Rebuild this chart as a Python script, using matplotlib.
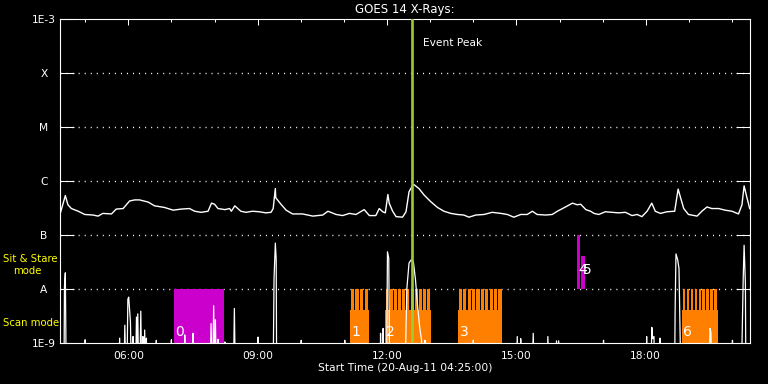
import matplotlib
matplotlib.use('Agg')
import numpy as np
import matplotlib.pyplot as plt
from matplotlib.ticker import MultipleLocator, FixedLocator, FuncFormatter, NullLocator

# time axis: hours of day, 20-Aug-11, 04:25 to 20:25
t_start = 4 + 25 / 60
t_end = t_start + 16
event_peak_hour = 12.59

# GOES 14 long channel, log10(W m^-2)
goes_hours = [
    4.43, 4.54, 4.60, 4.68, 4.84, 4.99, 5.18, 5.30, 5.41, 5.61,
    5.72, 5.88, 6.03, 6.15, 6.26, 6.46, 6.61, 6.84, 7.04, 7.23,
    7.42, 7.54, 7.69, 7.85, 7.93, 8.00, 8.08, 8.24, 8.35, 8.39,
    8.47, 8.54, 8.61, 8.73, 8.88, 9.04, 9.19, 9.31, 9.36, 9.41,
    9.42, 9.54, 9.66, 9.81, 10.04, 10.28, 10.51, 10.63, 10.82, 10.97,
    11.13, 11.28, 11.47, 11.59, 11.74, 11.82, 11.90, 11.96, 12.02, 12.05,
    12.13, 12.21, 12.36, 12.44, 12.51, 12.60, 12.63, 12.74, 12.86, 13.01,
    13.17, 13.32, 13.48, 13.63, 13.78, 13.90, 14.06, 14.25, 14.44, 14.64,
    14.79, 14.94, 15.10, 15.25, 15.37, 15.48, 15.68, 15.83, 15.95, 16.14,
    16.30, 16.41, 16.49, 16.61, 16.72, 16.80, 16.91, 17.06, 17.22, 17.37,
    17.53, 17.68, 17.80, 17.91, 18.03, 18.14, 18.22, 18.34, 18.49, 18.67,
    18.75, 18.80, 18.88, 18.99, 19.19, 19.30, 19.42, 19.53, 19.69, 19.84,
    20.00, 20.15, 20.23, 20.28, 20.34, 20.41,
]
goes_log = [
    -6.58, -6.27, -6.44, -6.51, -6.56, -6.62, -6.63, -6.65, -6.60, -6.61,
    -6.52, -6.51, -6.37, -6.35, -6.35, -6.39, -6.46, -6.49, -6.54, -6.52,
    -6.51, -6.56, -6.58, -6.56, -6.41, -6.43, -6.51, -6.53, -6.51, -6.56,
    -6.46, -6.51, -6.56, -6.58, -6.56, -6.57, -6.59, -6.58, -6.51, -6.14,
    -6.31, -6.43, -6.54, -6.61, -6.61, -6.65, -6.63, -6.56, -6.62, -6.64,
    -6.60, -6.62, -6.53, -6.64, -6.64, -6.51, -6.57, -6.59, -6.25, -6.41,
    -6.56, -6.66, -6.67, -6.57, -6.20, -6.07, -6.07, -6.14, -6.26, -6.38,
    -6.49, -6.56, -6.60, -6.62, -6.63, -6.67, -6.63, -6.62, -6.58, -6.60,
    -6.62, -6.67, -6.62, -6.62, -6.56, -6.62, -6.63, -6.62, -6.56, -6.48,
    -6.41, -6.44, -6.43, -6.53, -6.56, -6.60, -6.62, -6.57, -6.58, -6.59,
    -6.58, -6.64, -6.62, -6.66, -6.56, -6.41, -6.56, -6.60, -6.57, -6.56,
    -6.15, -6.29, -6.51, -6.62, -6.65, -6.56, -6.48, -6.51, -6.51, -6.54,
    -6.56, -6.61, -6.44, -6.09, -6.29, -6.51,
]

# second (lower) trace, log10 units, -9.5 = below plot floor
low_hours = [
    4.51, 4.52, 4.54, 4.56,
    4.99, 5.00, 5.01,
    5.78, 5.80, 5.82,
    5.90, 5.92, 5.94,
    5.97, 5.99, 6.01, 6.05, 6.07,
    6.10, 6.11, 6.12,
    6.17, 6.19, 6.21, 6.22, 6.24, 6.27, 6.29, 6.31,
    6.33, 6.34, 6.35, 6.37, 6.38, 6.40, 6.41, 6.42, 6.43,
    6.64, 6.65, 6.66,
    6.99, 7.00, 7.01,
    7.30, 7.31, 7.32,
    7.49, 7.50, 7.51,
    7.90, 7.92, 7.94, 7.96, 7.98, 8.00, 8.01, 8.02, 8.04, 8.07, 8.08, 8.09,
    8.23, 8.24, 8.25,
    8.44, 8.46, 8.48,
    9.00, 9.01, 9.02,
    9.36, 9.38, 9.41, 9.43, 9.44,
    10.00, 10.01, 10.02,
    11.01, 11.02, 11.03,
    11.84, 11.85, 11.86, 11.90, 11.91, 11.92, 11.99, 12.01, 12.04, 12.06,
    12.42, 12.46, 12.51, 12.56, 12.61, 12.66, 12.71, 12.76, 12.80, 12.81,
    12.87, 12.88, 12.89,
    13.99, 14.00, 14.01,
    15.00, 15.02, 15.03, 15.09, 15.10, 15.11,
    15.37, 15.39, 15.41,
    15.71, 15.73, 15.75,
    15.90, 15.93, 15.95, 15.98, 16.00,
    17.01, 17.02, 17.03,
    18.01, 18.02, 18.03, 18.12, 18.14, 18.16, 18.19, 18.20, 18.32, 18.33, 18.34,
    18.67, 18.68, 18.70, 18.74, 18.77, 18.81,
    19.47, 19.49, 19.51, 19.53,
    20.00, 20.01, 20.02,
    20.22, 20.24, 20.26, 20.28, 20.31, 20.32,
]
low_log = [
    -9.5, -7.96, -7.70, -9.5,
    -9.5, -8.94, -9.5,
    -9.5, -8.91, -9.5,
    -9.5, -8.67, -9.5,
    -9.5, -8.19, -8.15, -8.61, -9.5,
    -9.5, -8.88, -9.5,
    -9.5, -8.52, -9.5, -8.46, -9.5, -9.5, -8.41, -9.5,
    -9.5, -8.88, -9.5, -9.5, -8.76, -9.5, -9.5, -8.91, -9.5,
    -9.5, -8.95, -9.5,
    -9.5, -8.94, -9.5,
    -9.5, -8.85, -9.5,
    -9.5, -8.82, -9.5,
    -9.5, -8.64, -9.5, -9.5, -8.31, -9.5, -9.5, -8.57, -9.5, -9.5, -8.93, -9.5,
    -9.5, -8.98, -9.5,
    -9.5, -8.36, -9.5,
    -9.5, -8.89, -9.5,
    -9.5, -7.80, -7.15, -7.45, -9.5,
    -9.5, -8.95, -9.5,
    -9.5, -8.95, -9.5,
    -9.5, -8.82, -9.5, -9.5, -8.73, -9.5, -9.5, -7.31, -7.43, -9.5,
    -9.5, -7.99, -7.52, -7.46, -7.49, -7.83, -8.33, -8.73, -8.94, -9.5,
    -9.5, -8.95, -9.5,
    -9.5, -8.95, -9.5,
    -9.5, -8.88, -9.5, -9.5, -8.92, -9.5,
    -9.5, -8.82, -9.5,
    -9.5, -8.88, -9.5,
    -9.5, -8.96, -9.5, -8.96, -9.5,
    -9.5, -8.95, -9.5,
    -9.5, -8.88, -9.5, -9.5, -8.71, -8.92, -8.88, -9.5, -9.5, -8.91, -9.5,
    -9.5, -8.42, -7.35, -7.46, -7.62, -9.5,
    -9.5, -8.73, -8.80, -9.5,
    -9.5, -8.95, -9.5,
    -9.5, -8.64, -7.77, -7.19, -7.90, -9.5,
]

# observation blocks
block_ids = ['0', '1', '2', '3', '4', '5', '6']
block_start = [7.06, 11.14, 11.95, 13.65, 16.41, 16.50, 18.84]
block_end = [8.21, 11.58, 13.02, 14.67, 16.47, 16.59, 19.67]
block_bottom_log = [-9, -9, -9, -9, -8, -8, -9]
block_top_log = [-8, -8, -8, -8, -7, -7.39, -8]
block_steps = [0, 4, 11, 10, 0, 0, 9]   # raster steps (0 = no raster)
raster_split_log = -8.39

level_log = [-9, -8, -7, -6, -5, -4, -3]
level_names = ['1E-9', 'A', 'B', 'C', 'M', 'X', '1E-3']

MAGENTA = '#cc00cc'
ORANGE = '#ff8000'
GREEN = '#9acd32'


def hhmm(h, pos=None):
    m = int(round(h * 60))
    return '%02d:%02d' % (m // 60, m % 60)


fig = plt.figure(figsize=(7.68, 3.84), dpi=100, facecolor='black')
ax = fig.add_axes([60 / 768, 41 / 384, 690 / 768, 324 / 384], facecolor='black')
ax.set_yscale('log')
ax.set_ylim(1e-9, 1e-3)
ax.set_xlim(t_start, t_end)

# dotted class levels
for lv in level_log[1:-1]:
    ax.axhline(10.0 ** lv, color='white', lw=1.0, ls=(0, (0.75, 3.6)), zorder=1)

# blocks
for bid, s, e, b, t, n in zip(block_ids, block_start, block_end,
                              block_bottom_log, block_top_log, block_steps):
    if n == 0:
        ax.bar(s, 10.0 ** t - 10.0 ** b, bottom=10.0 ** b, width=e - s,
               align='edge', color=MAGENTA, lw=0, zorder=2)
    else:
        ax.bar(s, 10.0 ** raster_split_log - 10.0 ** b, bottom=10.0 ** b,
               width=e - s, align='edge', color=ORANGE, lw=0, zorder=2)
        step = (e - s) / n
        centers = s + step * (np.arange(n) + 0.5)
        ax.bar(centers, 10.0 ** t - 10.0 ** raster_split_log,
               bottom=10.0 ** raster_split_log, width=step * 0.7,
               color=ORANGE, lw=0, zorder=2)
    dy = 9 if b > -9 else 3
    ax.annotate(bid, (s, 10.0 ** b), xytext=(1, dy), textcoords='offset points',
                color='white', fontsize=10, ha='left', va='bottom', zorder=5)

ax.plot(low_hours, 10.0 ** np.array(low_log), color='white', lw=0.9, zorder=3)
ax.plot(goes_hours, 10.0 ** np.array(goes_log), color='white', lw=1.0, zorder=3)

ax.axvline(event_peak_hour, color=GREEN, lw=1.9, zorder=4)
ax.annotate('Event Peak', (event_peak_hour, 1e-3), xytext=(7.6, -17.3),
            textcoords='offset points', color='white', fontsize=7.7,
            ha='left', va='center')

# axes styling
for sp in ax.spines.values():
    sp.set_color('white')
    sp.set_linewidth(0.8)

ax.yaxis.set_major_locator(FixedLocator([10.0 ** v for v in level_log]))
ax.yaxis.set_minor_locator(NullLocator())
ax.set_yticklabels(level_names)
ax.tick_params(axis='y', which='major', direction='in', length=10, width=0.75,
               color='white', left=True, right=True, labelcolor='white',
               labelsize=7.7, pad=11.5)
for tk in ax.yaxis.get_major_ticks():
    tk.label1.set_horizontalalignment('center')

ax.xaxis.set_major_locator(MultipleLocator(3))
ax.xaxis.set_minor_locator(MultipleLocator(1))
ax.xaxis.set_major_formatter(FuncFormatter(hhmm))
ax.tick_params(axis='x', which='major', direction='in', length=4.3, width=0.75,
               color='white', top=True, bottom=False, labelcolor='white',
               labelsize=7.7, pad=5.8)
ax.tick_params(axis='x', which='minor', direction='in', length=2.2, width=0.75,
               color='white', top=True, bottom=False)

fig.text(405 / 768, 1 - 9 / 384, 'GOES 14 X-Rays:', color='white',
         fontsize=8.5, ha='center', va='center')
fig.text(405 / 768, 1 - 368 / 384, 'Start Time (20-Aug-11 04:25:00)',
         color='white', fontsize=7.7, ha='center', va='center')
fig.text(3 / 768, 1 - 259 / 384, 'Sit & Stare', color='yellow',
         fontsize=7.3, ha='left', va='center')
fig.text(13 / 768, 1 - 271 / 384, 'mode', color='yellow',
         fontsize=7.3, ha='left', va='center')
fig.text(3 / 768, 1 - 323 / 384, 'Scan mode', color='yellow',
         fontsize=7.3, ha='left', va='center')

fig.savefig('out.png', dpi=100, facecolor='black')
